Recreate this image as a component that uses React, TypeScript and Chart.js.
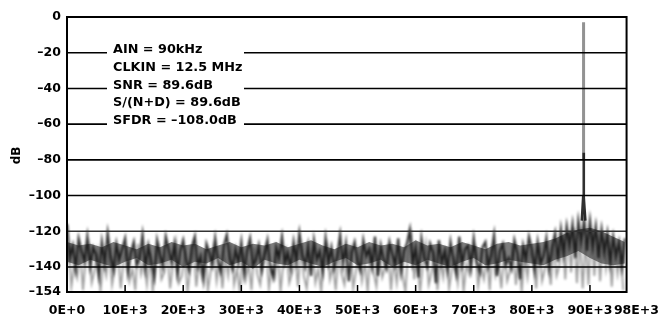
import React, { useEffect, useRef } from 'react';
import { Chart, registerables } from 'chart.js';

Chart.register(...registerables);

// FFT bins (Hz step) for the noise traces
const noiseStepHz = 500;
const lightOffsetHz = 250;
const bandStepHz = 2000;

// Dark core of the noise floor (dB), one value per 500 Hz bin, 0 .. 96 kHz
const darkNoiseDb = [
  -116, -135, -128, -141, -124, -131, -137, -123, -140, -129, -133, -145, -126, -138, -121, -134, -142, -127, -136, -130,
  -124, -143, -132, -126, -139, -135, -122, -141, -128, -137, -146, -125, -133, -140, -123, -130, -138, -127, -144, -131,
  -125, -136, -142, -129, -123, -140, -134, -147, -127, -132, -139, -124, -137, -143, -128, -122, -135, -141, -130, -138,
  -126, -144, -131, -124, -139, -136, -128, -142, -133, -125, -140, -146, -129, -135, -123, -138, -132, -141, -126, -137,
  -121, -133, -140, -128, -145, -125, -136, -131, -143, -124, -138, -129, -141, -134, -122, -139, -127, -148, -132, -126,
  -137, -142, -125, -134, -130, -140, -123, -145, -128, -136, -141, -126, -133, -139, -124, -143, -131, -127, -119, -138,
  -129, -146, -124, -135, -140, -127, -132, -149, -125, -138, -131, -142, -126, -136, -144, -123, -139, -130, -128, -141,
  -124, -137, -143, -129, -126, -140, -133, -122, -145, -131, -127, -139, -135, -141, -125, -132, -147, -128, -136, -123,
  -130, -142, -126, -138, -134, -124, -141, -129, -121, -137, -119, -133, -117, -128, -116, -135, -114, -126, -113, -131,
  -114, -129, -117, -135, -119, -132, -121, -138, -123, -134, -126, -140, -124,
];

// Lighter tails of the noise floor (dB), 500 Hz bins offset by 250 Hz
const lightNoiseDb = [
  -128, -151, -139, -146, -130, -153, -135, -127, -149, -142, -131, -154, -137, -145, -129, -150, -140, -133, -152, -136,
  -130, -148, -141, -153, -127, -144, -136, -150, -132, -154, -139, -129, -147, -143, -131, -152, -138, -126, -149, -145,
  -133, -154, -140, -128, -151, -137, -146, -131, -153, -142, -129, -148, -136, -152, -134, -145, -127, -150, -141, -154,
  -132, -147, -138, -153, -129, -144, -150, -135, -128, -152, -140, -146, -131, -154, -137, -130, -149, -143, -133, -151,
  -128, -145, -152, -136, -130, -149, -141, -154, -134, -127, -147, -139, -153, -131, -144, -150, -135, -129, -152, -142,
  -131, -148, -137, -154, -129, -143, -151, -133, -146, -140, -127, -153, -136, -149, -132, -145, -154, -128, -121, -147,
  -134, -154, -139, -127, -150, -143, -131, -153, -137, -146, -129, -152, -141, -135, -149, -130, -154, -138, -144, -132,
  -129, -151, -140, -147, -133, -153, -128, -145, -138, -152, -131, -148, -142, -127, -150, -136, -154, -134, -146, -130,
  -137, -152, -128, -148, -141, -135, -150, -127, -145, -139, -122, -147, -120, -143, -118, -149, -123, -152, -125, -150,
  -119, -145, -122, -148, -124, -141, -126, -151, -129, -144, -132, -153,
];

// Dense core of the noise floor (dB), every 2 kHz, 0 .. 96 kHz
const coreTopDb = [
  -126, -128, -127, -129, -126, -128, -130, -127, -129, -126,
  -128, -127, -130, -128, -126, -129, -127, -128, -126, -129,
  -127, -125, -128, -130, -127, -129, -126, -128, -127, -129,
  -125, -128, -127, -129, -126, -128, -130, -127, -126, -128,
  -127, -126, -124, -121, -119, -118, -120, -123, -126,
];
const coreBottomDb = [
  -137, -139, -136, -138, -140, -137, -135, -139, -138, -136,
  -140, -137, -138, -135, -139, -137, -141, -136, -138, -139,
  -136, -138, -140, -137, -135, -139, -138, -136, -140, -137,
  -139, -136, -138, -140, -137, -135, -139, -138, -136, -137,
  -138, -139, -136, -134, -131, -135, -138, -139, -138,
];

// Carrier (fundamental) spike
const carrierUpperHz = [88900, 88900];
const carrierUpperDb = [-3, -80];
const carrierLowerHz = [88600, 88830, 88900, 88970, 89200];
const carrierLowerDb = [-114, -101, -76, -101, -114];

// Axes
const yMin = -154;
const yMax = 0;
const yTickDb = [0, -20, -40, -60, -80, -100, -120, -140, -154];
const gridDb = [-20, -40, -60, -80, -100, -120, -140];
const xMax = 98000;
const xTickHz = [0, 10000, 20000, 30000, 40000, 50000, 60000, 70000, 80000, 90000, 98000];
const frameEndHz = 96300;

const infoLines = ['AIN = 90kHz', 'CLKIN = 12.5 MHz', 'SNR = 89.6dB', 'S/(N+D) = 89.6dB', 'SFDR = \u2013108.0dB'];
const yTitle = 'dB';

const FONT = '"DejaVu Sans", "Liberation Sans", Arial, sans-serif';

const fmtX = (v: number) => (v === 0 ? '0E+0' : `${Math.round(v / 1000)}E+3`);
const fmtY = (v: number) => (v === 0 ? '0' : '\u2013' + Math.abs(v));

const blurPlugin = {
  id: 'softTrace',
  beforeDatasetDraw(chart: any, args: any) {
    const ds = chart.data.datasets[args.index];
    chart.ctx.save();
    chart.ctx.filter = ds.label && ds.label.indexOf('noise') === 0 ? 'blur(0.8px)' : 'blur(0.5px)';
  },
  afterDatasetDraw(chart: any) {
    chart.ctx.restore();
  },
};

const overlayPlugin = {
  id: 'overlay',
  afterDatasetsDraw(chart: any) {
    const { ctx, scales } = chart;
    const x = scales.x;
    const y = scales.y;
    const left = x.getPixelForValue(0);
    const right = x.getPixelForValue(frameEndHz);
    const top = y.getPixelForValue(yMax);
    const bottom = y.getPixelForValue(yMin);
    ctx.save();
    ctx.fillStyle = '#fff';
    ctx.fillRect(right, top - 2, chart.chartArea.right - right + 4, bottom - top + 4);

    ctx.lineWidth = 1.6;
    gridDb.forEach((v) => {
      const py = y.getPixelForValue(v);
      ctx.strokeStyle = v === -120 ? '#333' : '#000';
      ctx.beginPath();
      ctx.moveTo(left, py);
      ctx.lineTo(right, py);
      ctx.stroke();
    });
    ctx.strokeStyle = '#000';
    ctx.lineWidth = 1.5;
    xTickHz
      .filter((v) => v > 0 && v < frameEndHz)
      .forEach((v) => {
        const px = x.getPixelForValue(v);
        ctx.beginPath();
        ctx.moveTo(px, bottom);
        ctx.lineTo(px, bottom - 7);
        ctx.stroke();
      });
    ctx.lineWidth = 2;
    ctx.strokeRect(left, top, right - left, bottom - top);

    const boxLeft = left + 40;
    const boxTop = top + 23;
    ctx.fillStyle = '#fff';
    ctx.fillRect(boxLeft, boxTop, 137, 88);
    ctx.fillStyle = '#000';
    ctx.font = `bold 12.8px ${FONT}`;
    ctx.textBaseline = 'middle';
    ctx.textAlign = 'left';
    infoLines.forEach((t, i) => {
      ctx.fillText(t, left + 46, top + 33 + i * 17.6);
    });

    ctx.save();
    ctx.translate(17, (top + bottom) / 2 + 1);
    ctx.rotate(-Math.PI / 2);
    ctx.textAlign = 'center';
    ctx.textBaseline = 'middle';
    ctx.font = `bold 12px ${FONT}`;
    ctx.fillText(yTitle, 0, 0);
    ctx.restore();

    ctx.restore();
  },
};

export default function App() {
  const canvasRef = useRef<HTMLCanvasElement | null>(null);

  useEffect(() => {
    const canvas = canvasRef.current;
    if (!canvas) return;
    const darkData = darkNoiseDb.map((v, i) => ({ x: i * noiseStepHz, y: v }));
    const lightData = lightNoiseDb.map((v, i) => ({ x: lightOffsetHz + i * noiseStepHz, y: v }));
    const topData = coreTopDb.map((v, i) => ({ x: i * bandStepHz, y: v }));
    const bottomData = coreBottomDb.map((v, i) => ({ x: i * bandStepHz, y: v }));
    const upperData = carrierUpperHz.map((f, i) => ({ x: f, y: carrierUpperDb[i] }));
    const lowerData = carrierLowerHz.map((f, i) => ({ x: f, y: carrierLowerDb[i] }));

    const chart = new Chart(canvas, {
      type: 'line',
      data: {
        datasets: [
          {
            label: 'carrier lower',
            data: lowerData,
            borderColor: 'rgba(25,25,25,0.9)',
            borderWidth: 2.6,
            pointRadius: 0,
            order: 0,
          },
          {
            label: 'carrier upper',
            data: upperData,
            borderColor: 'rgba(110,110,110,0.75)',
            borderWidth: 3,
            pointRadius: 0,
            order: 1,
          },
          {
            label: 'noise core',
            data: darkData,
            borderColor: 'rgba(15,15,15,0.85)',
            borderWidth: 2.2,
            pointRadius: 0,
            order: 2,
          },
          {
            label: 'noise tails',
            data: lightData,
            borderColor: 'rgba(60,60,60,0.5)',
            borderWidth: 1.8,
            pointRadius: 0,
            order: 3,
          },
          {
            label: 'noise band top',
            data: topData,
            borderWidth: 0,
            borderColor: 'rgba(0,0,0,0)',
            backgroundColor: 'rgba(30,30,30,0.58)',
            fill: '+1',
            pointRadius: 0,
            order: 4,
          },
          {
            label: 'noise band bottom',
            data: bottomData,
            borderWidth: 0,
            borderColor: 'rgba(0,0,0,0)',
            pointRadius: 0,
            fill: false,
            order: 5,
          },
        ],
      },
      options: {
        animation: false,
        responsive: false,
        maintainAspectRatio: false,
        layout: { padding: { top: 17, right: 27, left: 0, bottom: 0 } },
        plugins: { legend: { display: false }, tooltip: { enabled: false } },
        elements: { line: { tension: 0 }, point: { radius: 0 } },
        scales: {
          x: {
            type: 'linear',
            min: 0,
            max: xMax,
            afterBuildTicks: (s: any) => {
              s.ticks = xTickHz.map((v) => ({ value: v }));
            },
            afterFit: (s: any) => {
              s.height = 26;
            },
            ticks: {
              autoSkip: false,
              maxRotation: 0,
              padding: 11,
              color: '#000',
              font: { family: FONT, weight: 'bold', size: 12.5 },
              callback: (v: any) => fmtX(Number(v)),
            },
            grid: { display: false, drawTicks: false },
            border: { display: false },
          },
          y: {
            type: 'linear',
            min: yMin,
            max: yMax,
            afterBuildTicks: (s: any) => {
              s.ticks = yTickDb.map((v) => ({ value: v }));
            },
            afterFit: (s: any) => {
              s.width = 67;
            },
            ticks: {
              autoSkip: false,
              padding: 6,
              color: '#000',
              font: { family: FONT, weight: 'bold', size: 12.5 },
              callback: (v: any) => fmtY(Number(v)),
            },
            grid: { display: false, drawTicks: false },
            border: { display: false },
          },
        },
      },
      plugins: [blurPlugin, overlayPlugin],
    } as any);
    return () => chart.destroy();
  }, []);

  return (
    <div style={{ position: 'fixed', left: 0, top: 0, width: 670, height: 318, background: '#fff' }}>
      <canvas ref={canvasRef} width={670} height={318} style={{ display: 'block' }} />
    </div>
  );
}
